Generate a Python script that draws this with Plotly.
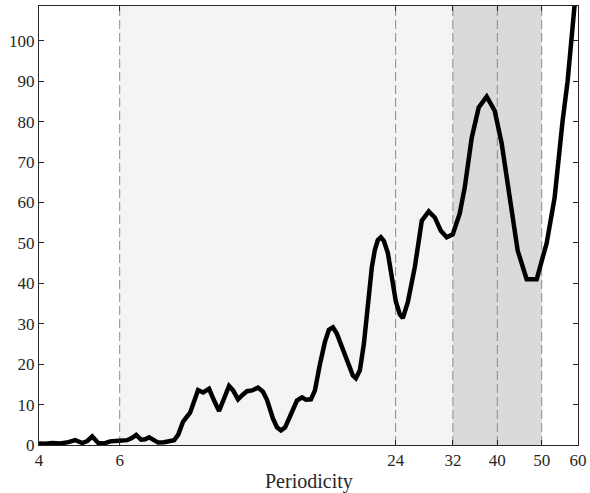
import plotly.graph_objects as go

# Periodicity (x, log scale) and spectral value (y)
periodicity = [4.000, 4.128, 4.276, 4.451, 4.634, 4.799, 4.971, 5.097, 5.227, 5.386,
               5.551, 5.721, 5.866, 6.015, 6.230, 6.388, 6.518, 6.683, 6.819, 6.957,
               7.098, 7.278, 7.501, 7.730, 7.887, 8.047, 8.251, 8.546, 8.719, 8.896,
               9.122, 9.260, 9.401, 9.640, 9.885, 10.136, 10.393, 10.604, 10.873, 11.150,
               11.376, 11.664, 12.021, 12.326, 12.576, 12.961, 13.223, 13.492, 13.765, 14.044,
               14.329, 14.619, 14.991, 15.295, 15.683, 16.001, 16.408, 16.825, 17.166, 17.514,
               17.869, 18.231, 18.601, 18.978, 19.362, 19.656, 20.055, 20.461, 20.876, 21.299,
               21.622, 21.950, 22.283, 22.621, 23.080, 23.548, 24.025, 24.512, 24.884, 25.516,
               26.428, 27.373, 28.352, 29.218, 30.111, 31.031, 31.980, 33.123, 33.965, 35.179,
               36.436, 37.928, 39.482, 40.893, 42.568, 44.311, 46.358, 48.744, 51.252, 53.351,
               55.536, 56.947, 60.000]
power = [0.4, 0.3, 0.5, 0.4, 0.7, 1.2, 0.5, 1.0, 2.1, 0.5,
         0.4, 0.9, 1.0, 1.0, 1.2, 1.8, 2.5, 1.3, 1.4, 1.9,
         1.4, 0.6, 0.7, 1.0, 1.2, 2.5, 5.8, 8.0, 11.0, 13.6,
         13.0, 13.4, 13.9, 11.0, 8.4, 11.5, 14.6, 13.5, 11.3, 12.5,
         13.3, 13.5, 14.2, 13.2, 11.2, 6.5, 4.4, 3.6, 4.3, 6.5,
         8.8, 11.0, 11.8, 11.2, 11.3, 13.5, 20.0, 25.5, 28.5, 29.1,
         27.5, 25.0, 22.0, 19.3, 17.2, 16.5, 18.5, 25.0, 35.5, 44.0,
         48.3, 50.7, 51.4, 50.5, 47.5, 41.5, 35.5, 32.3, 31.4, 35.3,
         44.0, 55.5, 57.8, 56.3, 53.0, 51.4, 52.1, 57.3, 63.7, 76.0,
         83.5, 86.2, 82.7, 74.6, 61.2, 48.1, 41.0, 41.0, 49.9, 61.2,
         80.2, 90.0, 118.0]

light_band = [6, 32]
dark_band = [32, 50]
dashed_at = [6, 24, 32, 40, 50]
x_ticks = [4, 6, 24, 32, 40, 50, 60]
y_ticks = [0, 10, 20, 30, 40, 50, 60, 70, 80, 90, 100]
x_title = "Periodicity"

FONT = "Liberation Serif, Times New Roman, serif"
INK = "#262626"

fig = go.Figure()

fig.add_vrect(x0=light_band[0], x1=light_band[1], fillcolor="#f4f4f4",
              line_width=0, layer="below")
fig.add_vrect(x0=dark_band[0], x1=dark_band[1], fillcolor="#dadada",
              line_width=0, layer="below")
for xv in dashed_at:
    fig.add_vline(x=xv, line=dict(color="#8a8a8a", width=1, dash="9px,4px"),
                  layer="below")

fig.add_trace(go.Scatter(x=periodicity, y=power, mode="lines",
                         line=dict(color="black", width=4.5),
                         showlegend=False, hoverinfo="skip"))

fig.add_annotation(text=x_title, xref="paper", yref="paper", x=0.5, y=-0.084,
                   xanchor="center", yanchor="middle", showarrow=False,
                   font=dict(family=FONT, size=20, color=INK))

fig.update_layout(
    width=590, height=493,
    margin=dict(l=39, r=12, t=6, b=48),
    paper_bgcolor="white", plot_bgcolor="white",
    font=dict(family=FONT, size=17, color=INK),
)
fig.update_xaxes(
    type="log", range=[0.60206, 1.778151], automargin=False,
    tickvals=x_ticks, ticktext=[str(v) for v in x_ticks],
    ticks="inside", ticklen=5, tickcolor=INK,
    showline=True, linecolor=INK, linewidth=1, mirror="ticks",
    showgrid=False, zeroline=False,
    tickfont=dict(family=FONT, size=17, color=INK),
)
fig.update_yaxes(
    range=[0, 108.6], automargin=False,
    tickvals=y_ticks,
    ticks="inside", ticklen=5, tickcolor=INK,
    showline=True, linecolor=INK, linewidth=1, mirror="ticks",
    showgrid=False, zeroline=False,
    tickfont=dict(family=FONT, size=17, color=INK),
)

fig.write_html(
    "out.html",
    config={"displayModeBar": False},
    post_script="document.body.style.margin='0px';document.body.style.padding='0px';",
)
